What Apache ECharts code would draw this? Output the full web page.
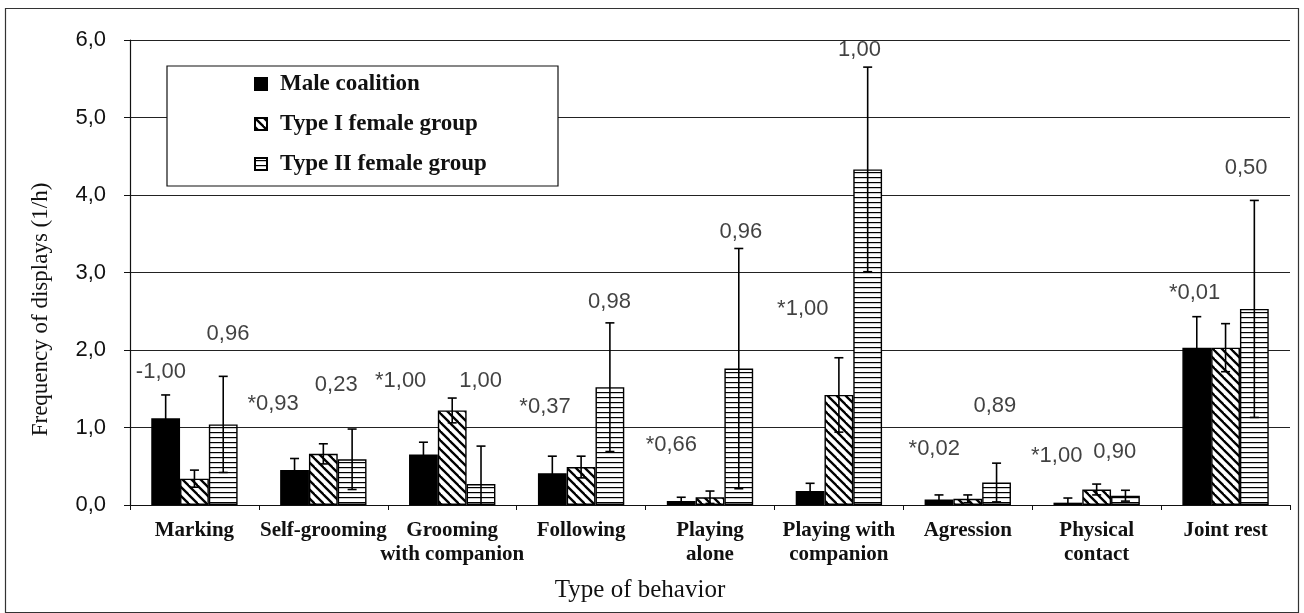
<!DOCTYPE html>
<html>
<head>
<meta charset="utf-8">
<script src="https://cdn.jsdelivr.net/npm/echarts@6/dist/echarts.min.js"></script>
<style>
  html, body { margin: 0; padding: 0; background: #fff; }
  #chart { width: 1304px; height: 613px; }
</style>
</head>
<body>
<div id="chart"></div>
<script>
// Behaviour categories on the x axis
const categories = [
  'Marking', 'Self-grooming', 'Grooming\nwith companion', 'Following',
  'Playing\nalone', 'Playing with\ncompanion', 'Agression', 'Physical\ncontact', 'Joint rest'
];

const seriesNames = ['Male coalition', 'Type I female group', 'Type II female group'];

// Mean frequency of displays (1/h) and error half-widths
const maleMean  = [1.12, 0.45, 0.65, 0.41, 0.05, 0.18, 0.07, 0.03, 2.03];
const maleErr   = [0.30, 0.15, 0.16, 0.22, 0.05, 0.10, 0.06, 0.06, 0.40];
const type1Mean = [0.34, 0.66, 1.22, 0.49, 0.10, 1.42, 0.08, 0.20, 2.03];
const type1Err  = [0.11, 0.13, 0.16, 0.14, 0.08, 0.48, 0.05, 0.07, 0.31];
const type2Mean = [1.04, 0.59, 0.27, 1.52, 1.76, 4.33, 0.29, 0.12, 2.53];
const type2Err  = [0.62, 0.39, 0.49, 0.83, 1.55, 1.32, 0.25, 0.07, 1.40];

// Significance values printed over each group
const pLeftText  = ['-1,00', '*0,93', '*1,00', '*0,37', '*0,66', '*1,00', '*0,02', '*1,00', '*0,01'];
const pRightText = ['0,96', '0,23', '1,00', '0,98', '0,96', '1,00', '0,89', '0,90', '0,50'];

// Where those values sit: offset inside the category band and height on the y scale
const pLeftAt  = [[0.24, 1.72], [0.11, 1.30], [0.10, 1.60], [0.22, 1.26], [0.20, 0.77],
                  [0.22, 2.53], [0.24, 0.72], [0.19, 0.63], [0.26, 2.74]];
const pRightAt = [[0.76, 2.21], [0.60, 1.55], [0.72, 1.60], [0.72, 2.62], [0.74, 3.52],
                  [0.66, 5.87], [0.71, 1.28], [0.64, 0.68], [0.66, 4.35]];

const yMin = 0, yMax = 6, yStep = 1;

const CAT_GAP = 0.33;
const SANS = 'Liberation Sans, Arial, sans-serif';
const SERIF = 'Liberation Serif, Times New Roman, serif';

// Fill patterns for the two female groups
function makePattern(kind) {
  const c = document.createElement('canvas');
  const ctx = c.getContext('2d');
  if (kind === 'diag') {
    const s = 9;
    c.width = s; c.height = s;
    ctx.fillStyle = '#fff';
    ctx.fillRect(0, 0, s, s);
    ctx.strokeStyle = '#000';
    ctx.lineWidth = 2.3;
    for (const o of [-s, 0, s]) {
      ctx.beginPath();
      ctx.moveTo(o - 1, -1);
      ctx.lineTo(o + s + 1, s + 1);
      ctx.stroke();
    }
  } else {
    c.width = 8; c.height = 5;
    ctx.fillStyle = '#fff';
    ctx.fillRect(0, 0, 8, 5);
    ctx.fillStyle = '#000';
    ctx.fillRect(0, 2, 8, 1.2);
  }
  return { image: c, repeat: 'repeat' };
}

const fills = ['#000', makePattern('diag'), makePattern('horiz')];
const means = [maleMean, type1Mean, type2Mean];
const errs = [maleErr, type1Err, type2Err];

function barSeries(k) {
  return {
    name: seriesNames[k],
    type: 'bar',
    xAxisIndex: 0,
    yAxisIndex: 0,
    barGap: '0%',
    barCategoryGap: (CAT_GAP * 100) + '%',
    data: means[k],
    itemStyle: { color: fills[k], borderColor: '#000', borderWidth: 1.4 },
    emphasis: { disabled: true },
    z: 2
  };
}

function errorSeries(k) {
  return {
    type: 'custom',
    xAxisIndex: 0,
    yAxisIndex: 0,
    silent: true,
    z: 5,
    encode: { x: 0, y: 1 },
    data: means[k].map((m, i) => [i, m, errs[k][i]]),
    renderItem(params, api) {
      const i = api.value(0), m = api.value(1), e = api.value(2);
      const band = api.size([1, 0])[0];
      const bw = band * (1 - CAT_GAP) / 3;
      const c = api.coord([i, m]);
      const x = c[0] + (k - 1) * bw;
      const yTop = api.coord([i, m + e])[1];
      const lowVal = m - e;
      const yBot = api.coord([i, Math.max(0, lowVal)])[1];
      const cap = 4.5;
      const style = { stroke: '#000', lineWidth: 1.6 };
      const kids = [
        { type: 'line', shape: { x1: x, y1: yTop, x2: x, y2: yBot }, style },
        { type: 'line', shape: { x1: x - cap, y1: yTop, x2: x + cap, y2: yTop }, style }
      ];
      if (lowVal > 0) {
        kids.push({ type: 'line', shape: { x1: x - cap, y1: yBot, x2: x + cap, y2: yBot }, style });
      }
      return { type: 'group', children: kids };
    }
  };
}

function pValueSeries(texts, at) {
  return {
    type: 'scatter',
    xAxisIndex: 1,
    yAxisIndex: 0,
    silent: true,
    symbolSize: 0,
    z: 6,
    data: texts.map((t, i) => ({ value: [i + at[i][0], at[i][1]], name: t })),
    label: {
      show: true,
      position: 'inside',
      formatter: p => p.name,
      fontFamily: SANS,
      fontSize: 22,
      color: '#111'
    }
  };
}

const chart = echarts.init(document.getElementById('chart'), null, { renderer: 'canvas' });

chart.setOption({
  animation: false,
  backgroundColor: '#fff',
  grid: { left: 130, right: 14, top: 40, bottom: 108, containLabel: false },
  legend: {
    data: seriesNames,
    orient: 'vertical',
    left: 249,
    top: 67,
    icon: 'rect',
    itemWidth: 12,
    itemHeight: 12,
    itemGap: 16,
    selectedMode: false,
    z: 8,
    textStyle: {
      fontFamily: SERIF,
      fontWeight: 'bold',
      fontSize: 23,
      color: '#111',
      lineHeight: 24,
      padding: [0, 0, 0, 8]
    }
  },
  xAxis: [
    {
      type: 'category',
      data: categories,
      name: 'Type of behavior',
      nameLocation: 'middle',
      nameGap: 73,
      nameTextStyle: {
        fontFamily: SERIF, fontSize: 25, color: '#111',
        padding: [0, 140, 0, 0]
      },
      axisLine: { show: true, lineStyle: { color: '#111', width: 1.2 } },
      axisTick: { show: true, length: 5, lineStyle: { color: '#111' } },
      axisLabel: {
        interval: 0,
        margin: 14,
        fontFamily: SERIF,
        fontWeight: 'bold',
        fontSize: 21,
        lineHeight: 24,
        color: '#111'
      },
      splitLine: { show: false }
    },
    {
      type: 'value',
      min: 0,
      max: categories.length,
      show: false
    }
  ],
  yAxis: {
    type: 'value',
    min: yMin,
    max: yMax,
    interval: yStep,
    name: 'Frequency of displays (1/h)',
    nameLocation: 'middle',
    nameGap: 78,
    nameTextStyle: {
      fontFamily: SERIF, fontSize: 23, color: '#111',
      padding: [0, 74, 0, 0]
    },
    axisLine: { show: true, lineStyle: { color: '#111', width: 1.2 } },
    axisTick: { show: true, inside: false, length: 6, lineStyle: { color: '#111' } },
    axisLabel: {
      margin: 24,
      fontFamily: SANS,
      fontSize: 22,
      color: '#111',
      formatter: v => v.toFixed(1).replace('.', ',')
    },
    splitLine: { show: true, lineStyle: { color: '#222', width: 1 } }
  },
  graphic: [
    {
      type: 'rect',
      z: 1,
      silent: true,
      shape: { x: 5.5, y: 8.5, width: 1293, height: 604 },
      style: { fill: null, stroke: '#333', lineWidth: 1.2 }
    },
    {
      type: 'rect',
      z: 7,
      silent: true,
      shape: { x: 167, y: 66, width: 391, height: 120 },
      style: { fill: '#fff', stroke: '#111', lineWidth: 1.2 }
    }
  ],
  series: [
    barSeries(0), barSeries(1), barSeries(2),
    errorSeries(0), errorSeries(1), errorSeries(2),
    pValueSeries(pLeftText, pLeftAt),
    pValueSeries(pRightText, pRightAt)
  ]
});
</script>
</body>
</html>
